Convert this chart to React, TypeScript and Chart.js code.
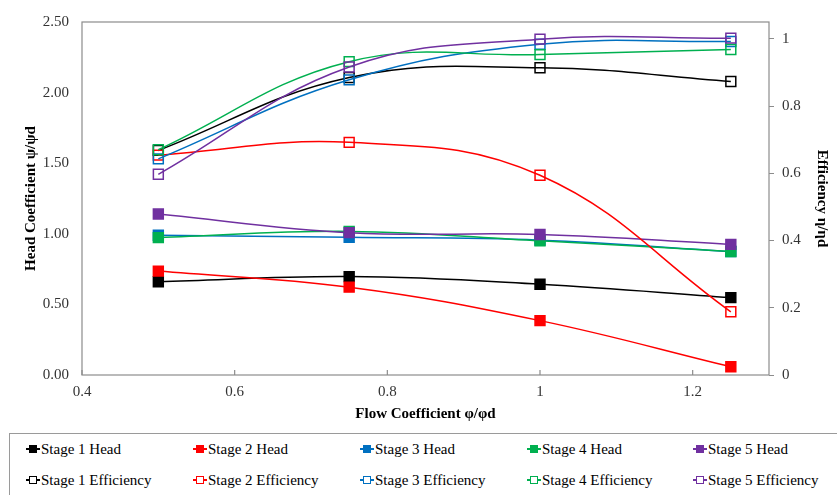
import React, { useEffect, useRef } from "react";
import { Chart, registerables } from "chart.js";
Chart.register(...registerables);

const flowCoefficient = [0.5, 0.75, 1.0, 1.25];
const xTicks = [0.4, 0.6, 0.8, 1.0, 1.2];
const stage1Head = [0.66, 0.697, 0.643, 0.548];
const stage2Head = [0.736, 0.622, 0.385, 0.058];
const stage3Head = [0.99, 0.975, 0.955, 0.875];
const stage4Head = [0.973, 1.017, 0.95, 0.875];
const stage5Head = [1.14, 1.008, 0.995, 0.925];
const stage1Eff = [0.668, 0.885, 0.914, 0.873];
const stage2Eff = [0.654, 0.692, 0.594, 0.188];
const stage3Eff = [0.643, 0.878, 0.984, 0.992];
const stage4Eff = [0.67, 0.932, 0.953, 0.968];
const stage5Eff = [0.597, 0.916, 0.999, 1.002];

const names = ["Stage 1", "Stage 2", "Stage 3", "Stage 4", "Stage 5"];
const colors = ["#000000", "#ff0000", "#0070c0", "#00b050", "#7030a0"];
const heads = [stage1Head, stage2Head, stage3Head, stage4Head, stage5Head];
const effs = [stage1Eff, stage2Eff, stage3Eff, stage4Eff, stage5Eff];

const FONT = "'Liberation Serif', 'Times New Roman', Times, serif";

const boxPlugin = {
  id: "boxPlugin",
  afterDraw(chart: any) {
    const { ctx, chartArea } = chart;
    const xs = chart.scales.x;
    ctx.save();
    ctx.strokeStyle = "#8c8c8c";
    ctx.lineWidth = 1.2;
    ctx.strokeRect(chartArea.left, chartArea.top, chartArea.right - chartArea.left, chartArea.bottom - chartArea.top);
    ctx.beginPath();
    xTicks.forEach((t) => {
      const px = xs.getPixelForValue(t);
      ctx.moveTo(px, chartArea.bottom);
      ctx.lineTo(px, chartArea.bottom - 5);
    });
    ctx.stroke();
    ctx.restore();
  },
};

function LegendMarker({ color, filled }: { color: string; filled: boolean }) {
  return (
    <span style={{ position: "relative", display: "inline-block", width: 14, height: 10, marginRight: 1 }}>
      <span style={{ position: "absolute", left: 0, top: 4, width: 14, height: 1.5, background: color }} />
      <span
        style={{
          position: "absolute",
          left: 3,
          top: 1,
          width: filled ? 8 : 6,
          height: filled ? 8 : 6,
          background: filled ? color : "#fff",
          border: filled ? "none" : `1.3px solid ${color}`,
        }}
      />
    </span>
  );
}

export default function App() {
  const ref = useRef<HTMLCanvasElement>(null);
  useEffect(() => {
    const datasets: any[] = [];
    heads.forEach((h, i) => {
      datasets.push({
        label: names[i] + " Head",
        data: flowCoefficient.map((x, j) => ({ x, y: h[j] })),
        yAxisID: "y",
        order: 20 - i,
        borderColor: colors[i],
        backgroundColor: colors[i],
        pointBackgroundColor: colors[i],
        pointBorderColor: colors[i],
        pointStyle: "rect",
        pointRadius: 7,
        borderWidth: 1.5,
        tension: 0.4,
      });
    });
    effs.forEach((e, i) => {
      datasets.push({
        label: names[i] + " Efficiency",
        data: flowCoefficient.map((x, j) => ({ x, y: e[j] })),
        yAxisID: "y1",
        order: 10 - i,
        borderColor: colors[i],
        backgroundColor: "rgba(0,0,0,0)",
        pointBackgroundColor: "rgba(0,0,0,0)",
        pointBorderColor: colors[i],
        pointBorderWidth: 1.5,
        pointStyle: "rect",
        pointRadius: 7,
        borderWidth: 1.5,
        tension: 0.4,
      });
    });
    const tickFont = { family: FONT, size: 15 };
    const titleFont = { family: FONT, size: 15, weight: "bold" as const };
    const chart = new Chart(ref.current!, {
      type: "line",
      data: { datasets },
      options: {
        animation: false,
        responsive: false,
        layout: { padding: { top: 14, left: 0, right: 0, bottom: 0 } },
        plugins: { legend: { display: false }, tooltip: { enabled: false } },
        scales: {
          x: {
            type: "linear",
            min: 0.4,
            max: 1.3,
            afterFit: (s: any) => { s.height = 50; },
            ticks: {
              stepSize: 0.2,
              includeBounds: false,
              font: tickFont,
              color: "#333333",
              padding: 8,
              callback: (v: any) => String(Math.round(Number(v) * 10) / 10),
            },
            grid: { display: false, drawTicks: false },
            border: { display: false },
            title: { display: true, text: "Flow Coefficient φ/φd", font: titleFont, color: "#000", padding: { top: 0, bottom: 2 } },
          },
          y: {
            position: "left",
            min: 0,
            max: 2.5,
            afterFit: (s: any) => { s.width = 82; },
            ticks: {
              stepSize: 0.5,
              font: tickFont,
              color: "#333333",
              padding: 13,
              callback: (v: any) => Number(v).toFixed(2),
            },
            grid: { display: false, drawTicks: false },
            border: { display: false },
            title: { display: true, text: "Head Coefficient ψ/ψd", font: titleFont, color: "#000", padding: { top: 22, bottom: 0 } },
          },
          y1: {
            position: "right",
            min: 0,
            max: 1.05,
            afterFit: (s: any) => { s.width = 68; },
            ticks: {
              stepSize: 0.2,
              includeBounds: false,
              font: tickFont,
              color: "#333333",
              padding: 8,
              callback: (v: any) => String(Math.round(Number(v) * 10) / 10),
            },
            grid: { display: true, drawOnChartArea: false, drawTicks: true, tickLength: 5, color: "#8c8c8c" },
            border: { display: false },
            title: { display: true, text: "Efficiency η/ηd", font: titleFont, color: "#000", padding: { top: 6, bottom: 0 } },
          },
        },
      },
      plugins: [boxPlugin],
    });
    return () => chart.destroy();
  }, []);

  const colLeft = [26, 193, 360, 527, 693];
  return (
    <div style={{ position: "fixed", left: 0, top: 0, width: 837, height: 495, overflow: "hidden", background: "#fff" }}>
      <canvas ref={ref} width={837} height={425} style={{ position: "absolute", left: 0, top: 0, width: 837, height: 425 }} />
      <div
        style={{
          position: "absolute",
          left: 9,
          top: 433,
          width: 840,
          height: 80,
          border: "1.5px solid #9a9a9a",
          boxSizing: "border-box",
        }}
      />
      {[0, 1].map((row) =>
        names.map((n, i) => (
          <div
            key={row + "-" + i}
            style={{
              position: "absolute",
              left: colLeft[i],
              top: row === 0 ? 440 : 471,
              height: 18,
              display: "flex",
              alignItems: "center",
              fontFamily: FONT,
              fontSize: 15,
              color: "#000",
              whiteSpace: "nowrap",
            }}
          >
            <LegendMarker color={colors[i]} filled={row === 0} />
            <span>{n + (row === 0 ? " Head" : " Efficiency")}</span>
          </div>
        ))
      )}
    </div>
  );
}
